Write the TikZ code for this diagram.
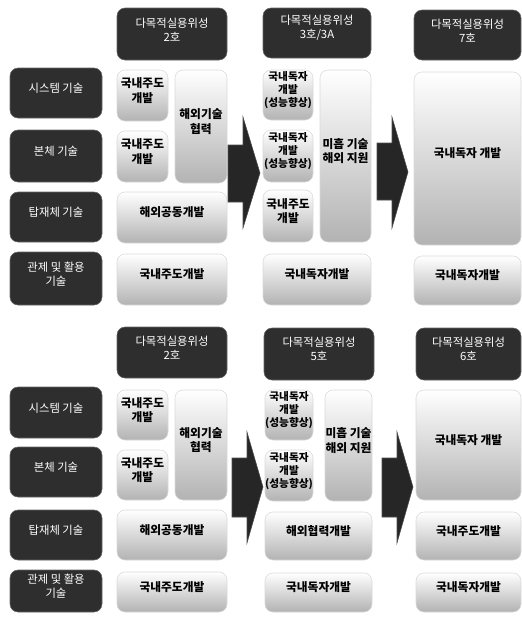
\documentclass[tikz,border=0pt]{standalone}
\usepackage{fontspec}
\setmainfont{Noto Sans CJK KR}
\usetikzlibrary{fit}
\begin{document}
\begin{tikzpicture}[x=0.75pt,y=-0.75pt,
  dark/.style={rounded corners=6pt,fill=black!82,draw=black!60,inner sep=0pt,
    text=white,align=center,font=\fontsize{8.5}{10.5}\selectfont},
  cell/.style={rounded corners=6pt,top color=white,bottom color=black!30,
    draw=black!15,inner sep=0pt,align=center,font=\fontsize{8.8}{11}\selectfont\bfseries},
  small/.style={font=\fontsize{8}{9.8}\selectfont\bfseries},
  bigarrow/.style={fill=black!85,draw=black!70}]
\useasboundingbox (0,0) rectangle (522,619);
% ===== top section =====
\node[dark,fit={(117,8) (227,60)}] (h11) {다목적실용위성\\2호};
\node[dark,fit={(263,8) (371,58)}] (h12) {다목적실용위성\\3호/3A};
\node[dark,fit={(414,10) (521,60)}] (h13) {다목적실용위성\\7호};
\node[dark,fit={(10,68) (102,118)}] (l11) {시스템 기술};
\node[dark,fit={(10,130) (102,182)}] (l12) {본체 기술};
\node[dark,fit={(10,192) (102,242)}] (l13) {탑재체 기술};
\node[dark,fit={(10,252) (102,305)}] (l14) {관제 및 활용\\기술};
\node[cell,fit={(117,70) (168,121)}] (a11) {국내주도\\개발};
\node[cell,fit={(117,131) (168,182)}] (a12) {국내주도\\개발};
\node[cell,fit={(175,70) (227,183)}] (a13) {해외기술\\협력};
\node[cell,fit={(117,192) (227,243)}] (a14) {해외공동개발};
\node[cell,fit={(117,254) (227,305)}] (a15) {국내주도개발};
\node[cell,small,fit={(263,70) (313,120)}] (b11) {국내독자\\개발\\(성능향상)};
\node[cell,small,fit={(263,130) (313,182)}] (b12) {국내독자\\개발\\(성능향상)};
\node[cell,fit={(263,190) (313,242)}] (b13) {국내주도\\개발};
\node[cell,fit={(320,70) (371,242)}] (b14) {미흡 기술\\해외 지원};
\node[cell,fit={(263,254) (371,305)}] (b15) {국내독자개발};
\node[cell,fit={(414,72) (521,245)}] (c11) {국내독자 개발};
\node[cell,fit={(414,256) (521,305)}] (c12) {국내독자개발};
\draw[bigarrow] (228,145) -- (243,145) -- (243,117) -- (260,173) -- (243,228) -- (243,202) -- (228,202) -- cycle;
\draw[bigarrow] (377,143) -- (392,143) -- (392,117) -- (408,172) -- (392,228) -- (392,200) -- (377,200) -- cycle;
% ===== bottom section =====
\node[dark,fit={(117,327) (227,378)}] (h21) {다목적실용위성\\2호};
\node[dark,fit={(264,328) (374,380)}] (h22) {다목적실용위성\\5호};
\node[dark,fit={(416,328) (521,380)}] (h23) {다목적실용위성\\6호};
\node[dark,fit={(10,387) (102,438)}] (l21) {시스템 기술};
\node[dark,fit={(10,447) (102,497)}] (l22) {본체 기술};
\node[dark,fit={(10,510) (102,560)}] (l23) {탑재체 기술};
\node[dark,fit={(10,570) (102,612)}] (l24) {관제 및 활용\\기술};
\node[cell,fit={(117,390) (168,440)}] (a21) {국내주도\\개발};
\node[cell,fit={(117,450) (168,500)}] (a22) {국내주도\\개발};
\node[cell,fit={(175,390) (227,500)}] (a23) {해외기술\\협력};
\node[cell,fit={(117,510) (227,560)}] (a24) {해외공동개발};
\node[cell,fit={(117,572) (227,612)}] (a25) {국내주도개발};
\node[cell,small,fit={(265,390) (313,440)}] (b21) {국내독자\\개발\\(성능향상)};
\node[cell,small,fit={(265,450) (313,501)}] (b22) {국내독자\\개발\\(성능향상)};
\node[cell,fit={(325,390) (372,501)}] (b23) {미흡 기술\\해외 지원};
\node[cell,fit={(265,512) (372,560)}] (b24) {해외협력개발};
\node[cell,fit={(265,573) (372,612)}] (b25) {국내독자개발};
\node[cell,fit={(416,390) (521,500)}] (c21) {국내독자 개발};
\node[cell,fit={(416,512) (521,560)}] (c22) {국내주도개발};
\node[cell,fit={(416,573) (521,612)}] (c23) {국내독자개발};
\draw[bigarrow] (232,458) -- (247,458) -- (247,432) -- (263,487) -- (247,543) -- (247,517) -- (232,517) -- cycle;
\draw[bigarrow] (382,458) -- (397,458) -- (397,432) -- (413,487) -- (397,543) -- (397,517) -- (382,517) -- cycle;
\end{tikzpicture}
\end{document}
